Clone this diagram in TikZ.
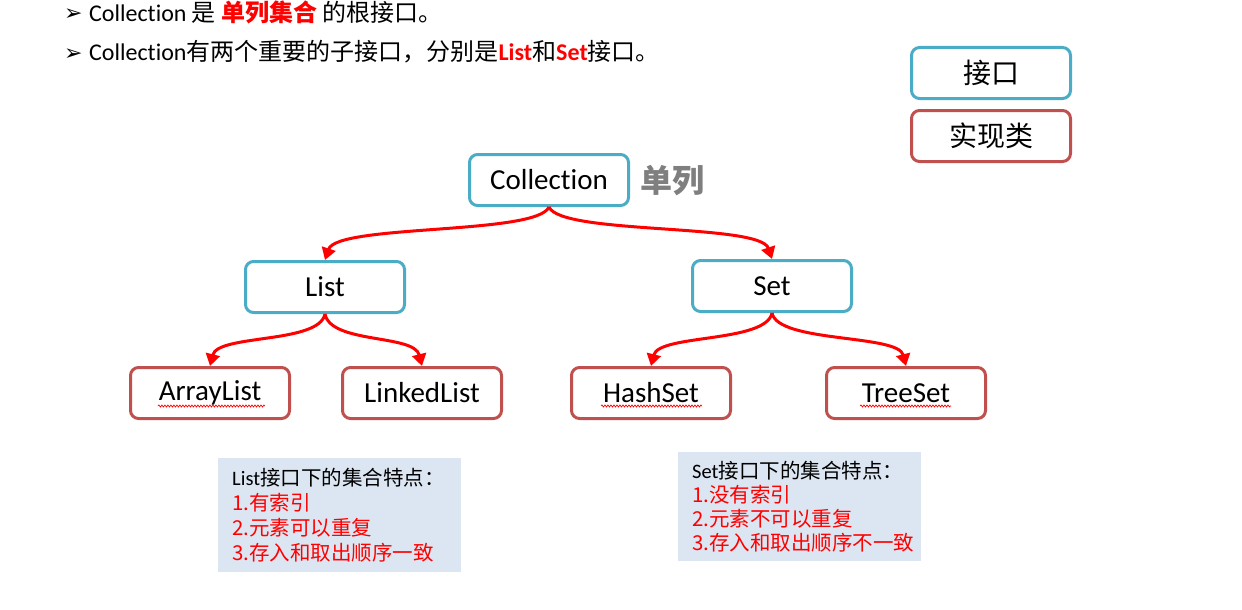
\documentclass[tikz,border=0pt]{standalone}
\usepackage{fontspec}
\setmainfont{Carlito}[Ligatures=NoCommon]
\newfontfamily\cjk{Noto Sans CJK SC}
\newfontfamily\dejavu{DejaVu Sans}
\usetikzlibrary{arrows.meta,decorations.pathmorphing}
\definecolor{ifc}{HTML}{4BACC6}
\definecolor{impl}{HTML}{C0504D}
\definecolor{notebg}{HTML}{DCE6F2}
\definecolor{graytxt}{HTML}{7F7F7F}
\definecolor{redtxt}{HTML}{FF0000}
\tikzset{
  box/.style={draw, line width=3pt, rounded corners=8pt, minimum width=159pt, minimum height=51pt, fill=white, inner sep=0pt, font=\fontsize{29}{32}\selectfont},
  ifbox/.style={box, draw=ifc},
  imbox/.style={box, draw=impl},
  legend/.style={box, font=\fontsize{28}{32}\selectfont\cjk},
  arr/.style={draw=red, line width=3pt, -{Triangle[length=12pt,width=14pt]}},
  notebox/.style={fill=notebg, align=left, anchor=north west, inner xsep=14pt, inner ysep=0pt, text=redtxt},
  topline/.style={anchor=base west, inner sep=0pt, font=\fontsize{24}{28}\selectfont},
  wavy/.style={draw=red, line width=0.7pt, decorate, decoration={snake, amplitude=1pt, segment length=3pt}}
}
\begin{document}
\begin{tikzpicture}[x=1pt,y=-1pt]
\useasboundingbox (0,0) rectangle (1242,610);
% top bullet lines
\node[topline] (b1) at (64,21) {\dejavu\fontsize{22}{26}\selectfont ➢};
\node[topline] (t1) at (89,22) {Collection {\cjk 是} {\cjk\bfseries\color{redtxt}单列集合} {\cjk 的根接口。}};
\node[topline] (b2) at (64,60) {\dejavu\fontsize{22}{26}\selectfont ➢};
\node[topline] (t2) at (89,61) {Collection{\cjk 有两个重要的子接口，分别是}{\bfseries\color{redtxt}List}{\cjk 和}{\bfseries\color{redtxt}Set}{\cjk 接口。}};
% legend
\node[legend, draw=ifc] (lgi) at (991,73) {接口};
\node[legend, draw=impl] (lgc) at (991,136) {实现类};
% tree
\node[ifbox] (coll) at (549,180) {Collection};
\node[anchor=west, inner sep=0pt, text=graytxt, font=\fontsize{32}{36}\selectfont\cjk\bfseries] (dl) at (640,181) {单列};
\node[ifbox] (list) at (325,287) {List};
\node[ifbox] (set) at (772,286) {Set};
\node[imbox] (al) at (210,393) {ArrayList};
\node[imbox] (ll) at (422,393) {LinkedList};
\node[imbox] (hs) at (651,393) {HashSet};
\node[imbox] (ts) at (906,393) {TreeSet};
% connectors
\draw[arr] (coll.south) .. controls +(-12,28) and +(12,-36) .. (list.north);
\draw[arr] (coll.south) .. controls +(12,28) and +(-12,-36) .. (set.north);
\draw[arr] (list.south) .. controls +(-6,30) and +(8,-32) .. (al.north);
\draw[arr] (list.south) .. controls +(6,30) and +(-8,-32) .. (ll.north);
\draw[arr] (set.south) .. controls +(-6,30) and +(8,-32) .. (hs.north);
\draw[arr] (set.south) .. controls +(6,30) and +(-8,-32) .. (ts.north);
% spell-check underlines
\draw[wavy] (158,406) -- (265,406);
\draw[wavy] (601,406) -- (702,406);
\draw[wavy] (860,406) -- (951,406);
% notes
\node[notebox, text width=215pt, minimum height=114pt, font=\fontsize{20.5}{25}\selectfont] (n1) at (218,458)
  {{\color{black}List\cjk 接口下的集合特点：}\\{\cjk 1.有索引}\\{\cjk 2.元素可以重复}\\{\cjk 3.存入和取出顺序一致}};
\node[notebox, text width=215pt, minimum height=109pt, font=\fontsize{20.5}{23.7}\selectfont] (n2) at (678,452)
  {{\color{black}Set\cjk 接口下的集合特点：}\\{\cjk 1.没有索引}\\{\cjk 2.元素不可以重复}\\{\cjk 3.存入和取出顺序不一致}};
\end{tikzpicture}
\end{document}
